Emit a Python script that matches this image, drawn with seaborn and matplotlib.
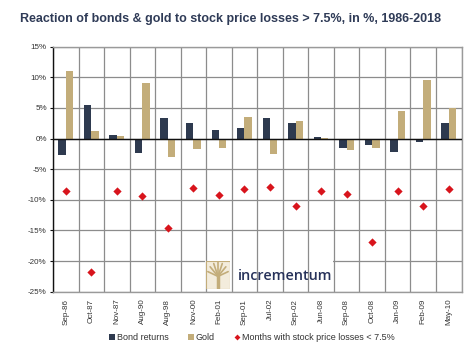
import matplotlib
matplotlib.use("Agg")
import matplotlib.pyplot as plt
from matplotlib.lines import Line2D
from matplotlib.patches import Patch, Rectangle
import seaborn as sns
import pandas as pd
import numpy as np

categories = ["Sep-86", "Oct-87", "Nov-87", "Aug-90", "Aug-98", "Nov-00", "Feb-01", "Sep-01",
              "Jul-02", "Sep-02", "Jun-08", "Sep-08", "Oct-08", "Jan-09", "Feb-09", "May-10"]
bond_returns = [-2.6, 5.4, 0.55, -2.4, 3.3, 2.55, 1.4, 1.75, 3.4, 2.6, 0.2, -1.5, -1.0, -2.2, -0.5, 2.55]
gold_returns = [11.0, 1.2, 0.45, 9.0, -3.0, -1.7, -1.5, 3.5, -2.5, 2.8, 0.05, -1.85, -1.5, 4.5, 9.5, 4.95]
stock_losses = [-8.6, -21.8, -8.6, -9.45, -14.55, -8.05, -9.25, -8.2, -7.9, -11.0, -8.6, -9.1, -16.95, -8.6, -11.0, -8.2]
series_names = ["Bond returns", "Gold"]
marker_name = "Months with stock price losses < 7.5%"
yticks = [-25, -20, -15, -10, -5, 0, 5, 10, 15]
title = "Reaction of bonds & gold to stock price losses > 7.5%, in %, 1986-2018"

NAVY = "#2e3a4f"
GOLD = "#c3ad7a"
RED = "#d8141c"

df = pd.DataFrame({
    "month": categories * 2,
    "value": bond_returns + gold_returns,
    "series": [series_names[0]] * len(categories) + [series_names[1]] * len(categories),
})

sns.set_style("white")
plt.rcParams["font.family"] = ["Liberation Sans", "DejaVu Sans"]

fig = plt.figure(figsize=(4.76, 3.52), dpi=100)
ax = fig.add_axes([53 / 476, 1 - 291.7 / 352, (461.5 - 53) / 476, (291.7 - 46.7) / 352])

sns.barplot(data=df, x="month", y="value", hue="series", order=categories,
            palette=[NAVY, GOLD], width=0.58, ax=ax, legend=False, saturation=1,
            linewidth=0, edgecolor="none", zorder=2)
sns.stripplot(x=categories, y=stock_losses, order=categories, jitter=False, marker="D",
              color=RED, size=4.2, linewidth=0, ax=ax, zorder=5)

ax.set_xlim(-0.5, len(categories) - 0.5)
ax.set_ylim(-25, 15)
ax.set_yticks(yticks)
ax.set_yticklabels([f"{t}%" for t in yticks], fontsize=5.8, color="#333333")
ax.set_xticks(range(len(categories)))
ax.set_xticklabels(categories, rotation=90, fontsize=5.8, color="#333333")
ax.tick_params(axis="x", length=0, pad=5)
ax.tick_params(axis="y", length=2.5, width=0.8, color="#111111", pad=2, direction="out", left=True)
ax.set_xlabel("")
ax.set_ylabel("")

for t in yticks:
    ax.axhline(t, color="#8c8c8c", lw=0.9, zorder=0.5)
for i in range(len(categories) + 1):
    ax.axvline(i - 0.5, color="#8c8c8c", lw=0.9, zorder=0.9)
ax.axhline(0, color="#111111", lw=1.0, zorder=3)

for s in ["top", "right", "bottom"]:
    ax.spines[s].set_color("#9a9a9a")
    ax.spines[s].set_linewidth(1.0)
ax.spines["left"].set_color("#111111")
ax.spines["left"].set_linewidth(1.0)

# Logo area (white box hides horizontal grid, vertical grid stays visible)
x0, x1 = (205 - 53) / (461.5 - 53), (333 - 53) / (461.5 - 53)
y0, y1 = 0.0, (291.7 - 259) / (291.7 - 46.7)
ax.add_patch(Rectangle((x0, y0 + 0.003), x1 - x0, y1 - y0, transform=ax.transAxes,
                       facecolor="white", edgecolor="none", zorder=0.7))
icon = fig.add_axes([206 / 476, 1 - 289 / 352, 24 / 476, 28 / 352])
icon.set_zorder(7)
icon.set_xlim(0, 1)
icon.set_ylim(0, 1)
icon.axis("off")
icon.add_patch(Rectangle((0, 0), 1, 1, facecolor="#f3ecdc", edgecolor=GOLD, lw=0.8))
icon.plot([0.5, 0.5], [0.05, 0.55], color=GOLD, lw=2.5)
for ang in np.linspace(20, 160, 7):
    r = np.deg2rad(ang)
    icon.plot([0.5, 0.5 + 0.45 * np.cos(r)], [0.45, 0.45 + 0.5 * np.sin(r)], color=GOLD, lw=1.2)
fig.text(285.5 / 476, 1 - 276 / 352, "incrementum", ha="center", va="center",
         fontsize=10.4, color="#27325a", zorder=6, family=["Open Sans", "DejaVu Sans"],
         fontweight="semibold")

fig.text(20 / 476, 1 - 19 / 352, title, ha="left", va="center", fontsize=9.0,
         fontweight="bold", color="#2f3b57")

handles = [
    Patch(facecolor=NAVY, edgecolor="none", label=series_names[0]),
    Patch(facecolor=GOLD, edgecolor="none", label=series_names[1]),
    Line2D([0], [0], marker="D", color="none", markerfacecolor=RED, markeredgecolor="none",
           markersize=3, label=marker_name),
]
fig.legend(handles=handles, loc="center", bbox_to_anchor=(252 / 476, 1 - 338 / 352), ncol=3,
           frameon=False, fontsize=6.5, handlelength=0.6, handleheight=0.6, handletextpad=0.2,
           columnspacing=2.2, labelcolor="#333333")

fig.savefig("out.png", dpi=100)
